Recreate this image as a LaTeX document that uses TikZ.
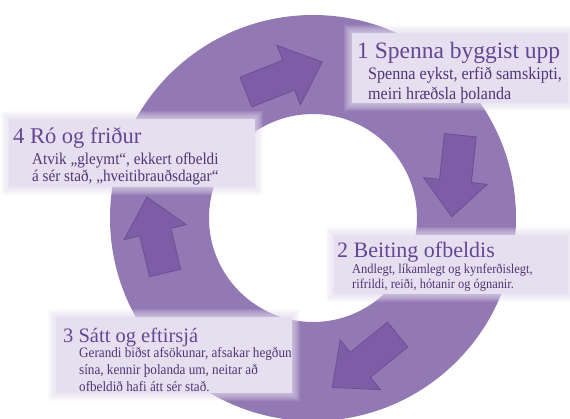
\documentclass[tikz,border=0pt]{standalone}
\usepackage{fontspec}
\setmainfont{Liberation Serif}
\newfontfamily\condserif[FakeStretch=0.92]{Liberation Serif}
\definecolor{ringcol}{RGB}{146,121,180}
\definecolor{arrowfill}{RGB}{125,94,166}
\definecolor{arrowline}{RGB}{108,78,148}
\definecolor{boxcol}{RGB}{229,223,240}
\definecolor{titlecol}{RGB}{100,70,148}
\definecolor{bodycol}{RGB}{80,54,118}
\tikzset{
  arrowstyle/.style={fill=arrowfill,draw=arrowline,line width=0.8pt,line join=miter},
  titletext/.style={anchor=base west,inner sep=0pt,text=titlecol,font=\fontsize{#1}{#1}\selectfont},
  bodytext/.style={anchor=base west,inner sep=0pt,text=bodycol,font=\condserif\fontsize{#1}{#1}\selectfont},
}
\newcommand\blockarrow[4]{%
  \begin{scope}[shift={(#1,#2)},rotate=#3]
    \filldraw[arrowstyle] (-#4,-16) -- (#4-36,-16) -- (#4-36,-32) -- (#4,0) -- (#4-36,32) -- (#4-36,16) -- (-#4,16) -- cycle;
  \end{scope}}
\newcommand\softbox[4]{%
  \foreach \k in {8,7,6,5,4,3,2,1}{
    \fill[boxcol,opacity=0.12] (#1-\k,#2-\k) rectangle (#3+\k,#4+\k);
  }
  \fill[boxcol] (#1,#2) rectangle (#3,#4);}
\begin{document}
\begin{tikzpicture}[x=1pt,y=-1pt]
\useasboundingbox (0,0) rectangle (570,418);
\fill[white] (0,0) rectangle (570,418);
% ring
\fill[ringcol,even odd rule] (313,218) circle[radius=203pt] (313,218) circle[radius=104pt];
% arrows
\blockarrow{284}{77}{21.5}{41}
\blockarrow{456}{176}{-96}{41}
\blockarrow{365}{361}{-141}{42}
\blockarrow{156}{235}{103.5}{39}
% boxes
\softbox{352}{33}{568}{103}
\softbox{9}{119}{255}{187}
\softbox{334}{235}{568}{294}
\softbox{56}{317}{292}{393}
% box 1
\node[titletext=23.5] (t1) at (357,58) {1 Spenna byggist upp};
\node[bodytext=17.5] (b1a) at (368,79) {Spenna eykst, erfið samskipti,};
\node[bodytext=17.5] (b1b) at (368,99) {meiri hræðsla þolanda};
% box 4
\node[titletext=22.5] (t4) at (13,143) {4 Ró og friður};
\node[bodytext=16.5] (b4a) at (32,164) {Atvik „gleymt“, ekkert ofbeldi};
\node[bodytext=16.5] (b4b) at (32,181) {á sér stað, „hveitibrauðsdagar“};
% box 2
\node[titletext=22] (t2) at (337,257) {2 Beiting ofbeldis};
\node[bodytext=13.5] (b2a) at (352,273) {Andlegt, líkamlegt og kynferðislegt,};
\node[bodytext=13.5] (b2b) at (352,288) {rifrildi, reiði, hótanir og ógnanir.};
% box 3
\node[titletext=20.5] (t3) at (63,342) {3 Sátt og eftirsjá};
\node[bodytext=14.3] (b3a) at (79,357) {Gerandi biðst afsökunar, afsakar hegðun};
\node[bodytext=14.3] (b3b) at (79,374) {sína, kennir þolanda um, neitar að};
\node[bodytext=14.3] (b3c) at (79,391) {ofbeldið hafi átt sér stað.};
\end{tikzpicture}
\end{document}
